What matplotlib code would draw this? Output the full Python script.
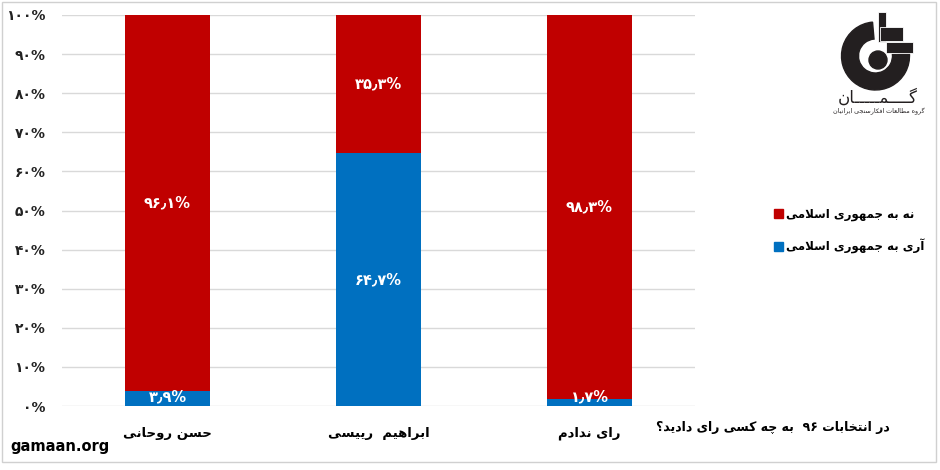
import re
import matplotlib
matplotlib.use("Agg")
import matplotlib.pyplot as plt
from matplotlib.patches import Rectangle, Wedge, Circle

# ---------------- data ----------------
categories = ["حسن روحانی", "ابراهیم  رییسی", "رای ندادم"]
yes_values = [3.9, 64.7, 1.7]      # آری به جمهوری اسلامی
no_values = [96.1, 35.3, 98.3]     # نه به جمهوری اسلامی
yes_labels = ["۳٫۹%", "۶۴٫۷%", "۱٫۷%"]
no_labels = ["۹۶٫۱%", "۳۵٫۳%", "۹۸٫۳%"]
series_names = ["نه به جمهوری اسلامی", "آری به جمهوری اسلامی"]
ytick_values = [0, 10, 20, 30, 40, 50, 60, 70, 80, 90, 100]
ytick_labels = ["۰%", "۱۰%", "۲۰%", "۳۰%", "۴۰%", "۵۰%", "۶۰%", "۷۰%", "۸۰%", "۹۰%", "۱۰۰%"]
question = "در انتخابات ۹۶  به چه کسی رای دادید؟"

RED = "#C00000"
BLUE = "#0070C0"
INK = "#231F20"

# ---------------- simple Persian shaping (presentation forms + visual order) ----------------
DUAL = {
    'ب': (0xFE8F, 0xFE90, 0xFE91, 0xFE92), 'پ': (0xFB56, 0xFB57, 0xFB58, 0xFB59),
    'ت': (0xFE95, 0xFE96, 0xFE97, 0xFE98), 'ج': (0xFE9D, 0xFE9E, 0xFE9F, 0xFEA0),
    'چ': (0xFB7A, 0xFB7B, 0xFB7C, 0xFB7D), 'ح': (0xFEA1, 0xFEA2, 0xFEA3, 0xFEA4),
    'خ': (0xFEA5, 0xFEA6, 0xFEA7, 0xFEA8), 'س': (0xFEB1, 0xFEB2, 0xFEB3, 0xFEB4),
    'ش': (0xFEB5, 0xFEB6, 0xFEB7, 0xFEB8), 'ط': (0xFEC1, 0xFEC2, 0xFEC3, 0xFEC4),
    'ع': (0xFEC9, 0xFECA, 0xFECB, 0xFECC), 'ف': (0xFED1, 0xFED2, 0xFED3, 0xFED4),
    'ق': (0xFED5, 0xFED6, 0xFED7, 0xFED8), 'ک': (0xFB8E, 0xFB8F, 0xFB90, 0xFB91),
    'گ': (0xFB92, 0xFB93, 0xFB94, 0xFB95), 'ل': (0xFEDD, 0xFEDE, 0xFEDF, 0xFEE0),
    'م': (0xFEE1, 0xFEE2, 0xFEE3, 0xFEE4), 'ن': (0xFEE5, 0xFEE6, 0xFEE7, 0xFEE8),
    'ه': (0xFEE9, 0xFEEA, 0xFEEB, 0xFEEC), 'ی': (0xFBFC, 0xFBFD, 0xFBFE, 0xFBFF),
    'ـ': (0x640, 0x640, 0x640, 0x640),
}
RIGHT = {
    'ا': (0xFE8D, 0xFE8E), 'آ': (0xFE81, 0xFE82), 'د': (0xFEA9, 0xFEAA),
    'ذ': (0xFEAB, 0xFEAC), 'ر': (0xFEAD, 0xFEAE), 'ز': (0xFEAF, 0xFEB0),
    'و': (0xFEED, 0xFEEE),
}


def fa(s):
    ch = list(s)
    n = len(ch)
    out = []
    i = 0
    joins = lambda c: c in DUAL or c in RIGHT
    while i < n:
        c = ch[i]
        prev = ch[i - 1] if i > 0 else None
        cp = prev in DUAL if prev else False
        if c == 'ل' and i + 1 < n and ch[i + 1] in ('ا', 'آ'):
            lig = (0xFEFB, 0xFEFC) if ch[i + 1] == 'ا' else (0xFEF5, 0xFEF6)
            out.append(chr(lig[1] if cp else lig[0]))
            i += 2
            continue
        if c in DUAL:
            nxt = ch[i + 1] if i + 1 < n else None
            cn = nxt is not None and joins(nxt)
            f = DUAL[c]
            out.append(chr(f[3] if (cp and cn) else f[1] if cp else f[2] if cn else f[0]))
        elif c in RIGHT:
            f = RIGHT[c]
            out.append(chr(f[1] if cp else f[0]))
        else:
            out.append(c)
        i += 1
    tokens = re.findall(r'[0-9۰-۹٫.%]+|.', "".join(out))
    return "".join(reversed(tokens))


plt.rcParams['font.family'] = ['DejaVu Sans']

fig = plt.figure(figsize=(9.4, 4.7), dpi=100)
ax = fig.add_axes([62 / 940, 1 - 406 / 470, (695 - 62) / 940, (406 - 15) / 470])

x = list(range(len(categories)))
width = 0.40
ax.bar(x, yes_values, width, color=BLUE, zorder=3)
ax.bar(x, no_values, width, bottom=yes_values, color=RED, zorder=3)

for xi, yv, nv, yl, nl in zip(x, yes_values, no_values, yes_labels, no_labels):
    ax.text(xi, max(yv / 2, 2.4), yl, ha='center', va='center', color='white',
            fontsize=10.5, fontweight='bold', zorder=4)
    ax.text(xi, yv + nv / 2, nl, ha='center', va='center', color='white',
            fontsize=10.5, fontweight='bold', zorder=4)

ax.set_xlim(-0.5, len(categories) - 0.5)
ax.set_ylim(0, 100)
ax.set_yticks(ytick_values)
ax.set_yticklabels(ytick_labels, fontsize=10, fontweight='bold', color='#222222')
ax.set_xticks(x)
ax.set_xticklabels([fa(c) for c in categories], fontsize=9.5, fontweight='bold')
ax.tick_params(axis='both', length=0)
ax.tick_params(axis='y', pad=12)
ax.tick_params(axis='x', pad=15)
ax.grid(axis='y', color='#D9D9D9', linewidth=1, zorder=0)
for s in ax.spines.values():
    s.set_visible(False)

# question label
fig.text(890 / 940, 1 - 428 / 470, fa(question), ha='right', va='center',
         fontsize=9, fontweight='bold')

# legend
handles = [Rectangle((0, 0), 1, 1, color=RED), Rectangle((0, 0), 1, 1, color=BLUE)]
fig.legend(handles, [fa(s) for s in series_names], loc='upper left',
           bbox_to_anchor=(768 / 940, 1 - 202 / 470), frameon=False,
           handlelength=0.75, handleheight=0.75, handletextpad=0.25,
           labelspacing=1.5, borderpad=0, prop={'weight': 'bold', 'size': 8.5})

# site label
fig.text(10 / 940, 1 - 447 / 470, "gamaan.org", ha='left', va='center',
         fontsize=10.5, fontweight='bold')

# logo (drawn in pixel-like coords: x = px - 835, y = 100 - py)
lax = fig.add_axes([835 / 940, 1 - 100 / 470, 90 / 940, 90 / 470])
lax.set_xlim(0, 90)
lax.set_ylim(0, 90)
lax.set_aspect('equal')
lax.axis('off')
lax.add_patch(Wedge((40.5, 44), 34, 95, 365, width=17, color=INK))
lax.add_patch(Circle((43, 40), 9, color=INK))
lax.add_patch(Rectangle((43, 58), 8, 30, facecolor=INK, edgecolor='white', linewidth=0.6))
lax.add_patch(Rectangle((45, 59), 23, 14, facecolor=INK, edgecolor='white', linewidth=0.6))
lax.add_patch(Rectangle((51, 47), 27, 11, facecolor=INK, edgecolor='white', linewidth=0.6))
fig.text(878 / 940, 1 - 98 / 470, fa("گــــمـــــان"), ha='center', va='center',
         fontsize=12, color=INK)
fig.text(879 / 940, 1 - 111 / 470, fa("گروه مطالعات افکارسنجی ایرانیان"),
         ha='center', va='center', fontsize=4.6, color=INK)

# frame
fig.patches.append(Rectangle((2 / 940, 1 - 462 / 470), 934 / 940, 460 / 470,
                             transform=fig.transFigure, fill=False,
                             edgecolor='#D0D0D0', linewidth=1))

fig.savefig("out.png", dpi=100, facecolor='white')
